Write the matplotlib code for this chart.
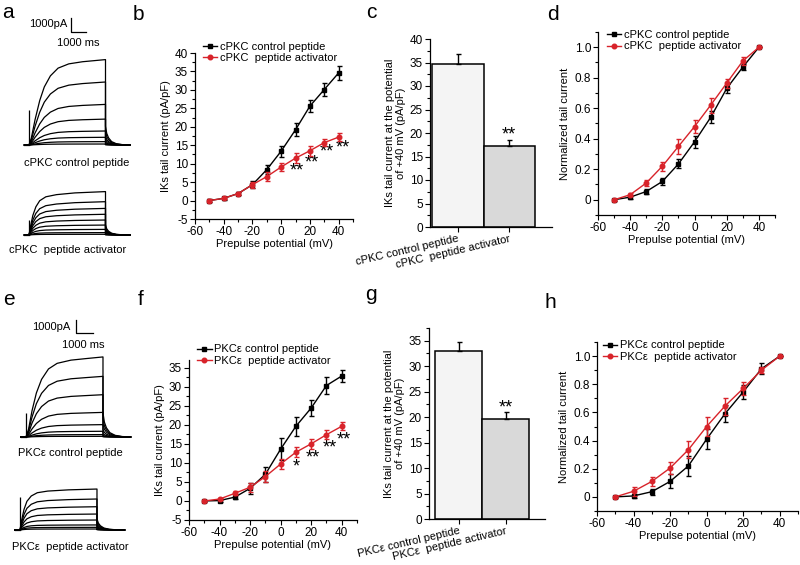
import matplotlib
matplotlib.use("Agg")
import matplotlib.pyplot as plt
from matplotlib.ticker import MultipleLocator

plt.rcParams["font.family"] = ["Liberation Sans", "DejaVu Sans"]
plt.rcParams["axes.unicode_minus"] = False

# ---------------- data ----------------
potential = [-50, -40, -30, -20, -10, 0, 10, 20, 30, 40]

# b: cPKC tail current (pA/pF)
b_ctrl = [0, 0.6, 1.9, 4.3, 8.4, 13.4, 19.2, 25.6, 30.1, 34.6]
b_ctrl_err = [0.3, 0.4, 0.5, 0.9, 1.3, 1.5, 1.8, 1.7, 1.8, 1.8]
b_act = [0, 0.6, 1.9, 4.3, 6.5, 9.1, 11.5, 13.5, 15.7, 17.2]
b_act_err = [0.3, 0.3, 0.5, 0.8, 1.2, 1.2, 1.4, 1.3, 1.0, 1.0]
b_stars_x = [11, 21, 31.5, 43]
b_stars_y = [8.0, 10.2, 13.2, 14.3]

# c: +40 mV bars
c_vals = [34.7, 17.2]
c_err = [2.1, 1.3]

# d: cPKC normalized tail current
d_ctrl = [0, 0.017, 0.054, 0.12, 0.235, 0.38, 0.54, 0.73, 0.87, 1.0]
d_ctrl_err = [0.005, 0.01, 0.015, 0.025, 0.03, 0.04, 0.04, 0.03, 0.02, 0]
d_act = [0, 0.033, 0.11, 0.22, 0.35, 0.48, 0.62, 0.765, 0.91, 1.0]
d_act_err = [0.005, 0.01, 0.02, 0.03, 0.05, 0.045, 0.05, 0.03, 0.025, 0]

# f: PKCe tail current (pA/pF)
f_ctrl = [0, 0.1, 1.0, 3.3, 7.0, 13.6, 19.6, 24.4, 30.3, 32.8]
f_ctrl_err = [0.2, 0.3, 0.6, 1.5, 2.0, 2.8, 2.5, 2.0, 2.3, 1.7]
f_act = [0, 0.5, 2.0, 3.6, 6.4, 9.7, 12.8, 15.0, 17.4, 19.6]
f_act_err = [0.2, 0.3, 0.5, 1.2, 1.5, 1.3, 1.3, 1.3, 1.1, 1.1]
f_stars = ["*", "**", "**", "**"]
f_stars_x = [10.5, 21, 32, 41.5]
f_stars_y = [9.0, 11.3, 13.9, 15.9]

# g: +40 mV bars
g_vals = [32.9, 19.6]
g_err = [1.8, 1.5]

# h: PKCe normalized tail current
h_ctrl = [0, 0.007, 0.037, 0.11, 0.22, 0.41, 0.59, 0.745, 0.91, 1.0]
h_ctrl_err = [0.005, 0.015, 0.02, 0.05, 0.07, 0.07, 0.06, 0.05, 0.04, 0]
h_act = [0, 0.04, 0.11, 0.205, 0.335, 0.5, 0.645, 0.77, 0.9, 1.0]
h_act_err = [0.005, 0.03, 0.03, 0.045, 0.06, 0.07, 0.06, 0.045, 0.02, 0]

# raw current traces: step amplitudes (pA) and normalized activation time course
a_ctrl_amps = [6100, 4500, 2900, 1850, 1000, 550, 240, 70]
a_act_amps = [3100, 2380, 1900, 1480, 1070, 710, 400, 170, 50]
e_ctrl_amps = [6020, 4560, 3180, 1850, 930, 430, 180, 50]
e_act_amps = [3080, 2330, 1750, 1200, 750, 380, 200, 75]

a_ctrl_t = [0, 150, 400, 700, 1000, 1400, 1900, 2600, 3500, 5000]
a_ctrl_f = [0, 0.08, 0.3, 0.52, 0.68, 0.81, 0.9, 0.95, 0.975, 1.0]
a_act_t = [0, 100, 250, 450, 700, 1100, 1800, 3000, 5000]
a_act_f = [0, 0.2, 0.45, 0.65, 0.79, 0.88, 0.93, 0.97, 1.0]
e_ctrl_t = [0, 150, 350, 600, 900, 1300, 1800, 2600, 3500, 4450]
e_ctrl_f = [0, 0.1, 0.33, 0.55, 0.72, 0.85, 0.92, 0.96, 0.98, 1.0]
e_act_t = [0, 100, 230, 400, 650, 1000, 1600, 2800, 4450]
e_act_f = [0, 0.25, 0.5, 0.7, 0.83, 0.91, 0.95, 0.98, 1.0]

tail_t = [0, 80, 200, 400, 700, 1100, 1600]
tail_f = [1, 0.62, 0.38, 0.18, 0.07, 0.02, 0]
tail_frac = {"a_ctrl": 0.22, "a_act": 0.23, "e_ctrl": 0.3, "e_act": 0.27}
spike_pA = {"a_ctrl": 2500, "a_act": 1070, "e_ctrl": 1800, "e_act": 2450}

RED = "#d8232a"
W, H = 800, 565
FS = 8

fig = plt.figure(figsize=(8, 5.65), dpi=100)


def rect(l, t, r, b):
    return [l / W, 1 - b / H, (r - l) / W, (b - t) / H]


def ftext(x, y, s, **kw):
    fig.text(x / W, 1 - y / H, s, **kw)


# ---------------- traces ----------------
def trace_axes(box, t0_px, base_px, px_per_s, px_per_na):
    l, t, r, b = box
    ax = fig.add_axes(rect(l, t, r, b))
    ax.set_xlim((l - t0_px) / px_per_s * 1000, (r - t0_px) / px_per_s * 1000)
    ax.set_ylim((base_px - b) / px_per_na * 1000, (base_px - t) / px_per_na * 1000)
    ax.axis("off")
    return ax


def draw_traces(ax, amps, rt, rf, key):
    end = rt[-1]
    for amp in amps:
        ts = [-300] + rt + [end + x for x in tail_t]
        ys = [0] + [amp * f for f in rf] + [amp * tail_frac[key] * f for f in tail_f]
        ax.plot(ts, ys, color="black", lw=0.9)
    ax.plot([-300, 0], [0, 0], color="black", lw=0.9)
    ax.vlines(0, 0, spike_pA[key], color="black", lw=0.9)


def scale_bar(ax, t0, i0):
    ax.plot([t0, t0, t0 + 1000], [i0 + 1000, i0, i0], color="black", lw=0.9)


ax = trace_axes((0, 10, 140, 150), 29, 145, 15.3, 14)
draw_traces(ax, a_ctrl_amps, a_ctrl_t, a_ctrl_f, "a_ctrl")
scale_bar(ax, 2745, 8070)
ax = trace_axes((0, 170, 140, 240), 29, 235, 15.3, 14)
draw_traces(ax, a_act_amps, a_act_t, a_act_f, "a_act")
ax = trace_axes((0, 310, 140, 442), 26, 437, 17.3, 13.3)
draw_traces(ax, e_ctrl_amps, e_ctrl_t, e_ctrl_f, "e_ctrl")
scale_bar(ax, 2890, 7820)
ax = trace_axes((0, 460, 140, 535), 20, 530, 17.3, 13.3)
draw_traces(ax, e_act_amps, e_act_t, e_act_f, "e_act")

ftext(67, 24, "1000pA", ha="right", va="center", fontsize=FS)
ftext(78, 43, "1000 ms", ha="center", va="center", fontsize=FS)
ftext(70, 327, "1000pA", ha="right", va="center", fontsize=FS)
ftext(83, 345, "1000 ms", ha="center", va="center", fontsize=FS)
ftext(77, 163, "cPKC control peptide", ha="center", va="center", fontsize=FS)
ftext(68, 250, "cPKC  peptide activator", ha="center", va="center", fontsize=FS)
ftext(70, 453, "PKCε control peptide", ha="center", va="center", fontsize=FS)
ftext(70, 547, "PKCε  peptide activator", ha="center", va="center", fontsize=FS)


# ---------------- graphs ----------------
def style(ax):
    ax.spines["top"].set_visible(False)
    ax.spines["right"].set_visible(False)
    for s in ("left", "bottom"):
        ax.spines[s].set_linewidth(0.9)
    ax.tick_params(which="both", direction="out", width=0.8, labelsize=8.5, pad=1.5)
    ax.tick_params(which="major", length=3.5)
    ax.tick_params(which="minor", length=2)


def iv_panel(box, ctrl, ctrl_err, act, act_err, labels, ylim, ymaj, ymin,
             ylabel, leg_y, leg_x, yfmt=None):
    ax = fig.add_axes(rect(*box))
    style(ax)
    eb1 = ax.errorbar(potential, ctrl, yerr=ctrl_err, color="black", marker="s",
                      ms=3, lw=1.0, elinewidth=1.0, capsize=1.8, zorder=3)
    eb2 = ax.errorbar(potential, act, yerr=act_err, color=RED, marker="o",
                      ms=3.3, lw=1.0, elinewidth=1.0, capsize=1.8, zorder=4)
    ax.set_xlim(-60, 50)
    ax.set_ylim(*ylim)
    ax.xaxis.set_major_locator(MultipleLocator(20))
    ax.xaxis.set_minor_locator(MultipleLocator(10))
    ax.yaxis.set_major_locator(MultipleLocator(ymaj))
    ax.yaxis.set_minor_locator(MultipleLocator(ymin))
    if yfmt:
        ax.yaxis.set_major_formatter(yfmt)
    ax.set_xlabel("Prepulse potential (mV)", fontsize=FS, labelpad=1)
    ax.set_ylabel(ylabel, fontsize=FS, labelpad=3)
    ax.legend([eb1[0], eb2[0]], labels, loc="upper left",
              bbox_to_anchor=(leg_x, leg_y), frameon=False, fontsize=FS,
              handlelength=1.3, handletextpad=0.25, labelspacing=0.15,
              borderpad=0, borderaxespad=0)
    return ax


def norm_fmt(v, pos):
    return "0" if abs(v) < 1e-9 else f"{v:.1f}"


def bar_panel(box, vals, errs, labels, ylim, ylabel, star_y):
    ax = fig.add_axes(rect(*box))
    style(ax)
    ax.bar([0, 1], vals, width=1.0, color=["#f4f4f4", "#d9d9d9"],
           edgecolor="black", linewidth=1.1, zorder=2)
    ax.errorbar([0, 1], vals, yerr=[[0, 0], errs], fmt="none", ecolor="black",
                elinewidth=1.0, capsize=1.8, zorder=3)
    ax.text(1, star_y, "**", ha="center", va="center", fontsize=13)
    ax.set_ylim(*ylim)
    ax.yaxis.set_major_locator(MultipleLocator(5))
    ax.yaxis.set_minor_locator(MultipleLocator(2.5))
    ax.set_xticks([0, 1])
    ax.set_xticklabels(labels, rotation=13, ha="right", rotation_mode="anchor",
                       fontsize=FS)
    ax.set_ylabel(ylabel, fontsize=FS, labelpad=3, linespacing=1.1)
    return ax


cpkc = ["cPKC control peptide", "cPKC  peptide activator"]
pkce = ["PKCε control peptide", "PKCε  peptide activator"]
iv_label = "IKs tail current (pA/pF)"
bar_label = "IKs tail current at the potential\nof +40 mV (pA/pF)"

ax = iv_panel((195, 53, 353, 219), b_ctrl, b_ctrl_err, b_act, b_act_err, cpkc,
              (-5, 40), 5, 2.5, iv_label, 1.069, 0.05)
for x, y in zip(b_stars_x, b_stars_y):
    ax.text(x, y, "**", ha="center", va="center", fontsize=13)

ax = bar_panel((430, 39, 552, 227), c_vals, c_err, cpkc, (0, 40), bar_label, 19.6)
ax.set_xlim(-0.54, 1.83)

iv_panel((598, 32, 775, 215), d_ctrl, d_ctrl_err, d_act, d_act_err, cpkc,
         (-0.1, 1.1), 0.2, 0.1, "Normalized tail current", 1.012, 0.05, norm_fmt)

ax = iv_panel((189, 360, 357, 520), f_ctrl, f_ctrl_err, f_act, f_act_err, pkce,
              (-5, 37), 5, 2.5, iv_label, 1.097, 0.048)
for s, x, y in zip(f_stars, f_stars_x, f_stars_y):
    ax.text(x, y, s, ha="center", va="center", fontsize=13)

ax = bar_panel((429, 328, 545, 519), g_vals, g_err, pkce, (0, 37.5), bar_label, 21.8)
ax.set_xlim(-0.63, 1.84)

iv_panel((597, 342, 798, 511), h_ctrl, h_ctrl_err, h_act, h_act_err, pkce,
         (-0.1, 1.1), 0.2, 0.1, "Normalized tail current", 1.009, 0.03, norm_fmt)

# panel letters
for letter, x, y in [("a", 2, 18), ("b", 133, 20), ("c", 366, 18), ("d", 547, 20),
                     ("e", 3, 305), ("f", 138, 305), ("g", 365, 300), ("h", 545, 308)]:
    ftext(x, y, letter, ha="left", va="baseline", fontsize=15)

fig.savefig("out.png", dpi=100)
